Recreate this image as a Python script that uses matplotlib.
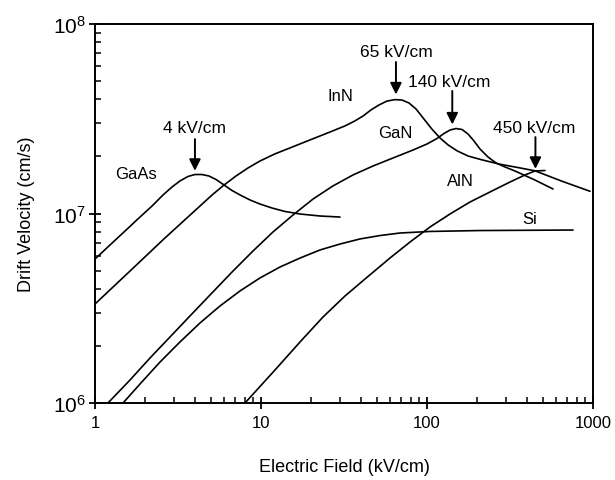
import matplotlib
matplotlib.use("Agg")
import matplotlib.pyplot as plt
from matplotlib.ticker import FixedLocator, FixedFormatter, LogLocator, NullFormatter

plt.rcParams['font.family'] = ['Liberation Sans', 'DejaVu Sans']
plt.rcParams['mathtext.fontset'] = 'custom'
plt.rcParams['mathtext.rm'] = 'Liberation Sans'

# ---- data (E in kV/cm, v in cm/s) ----
gaas_E = [1.0, 1.231, 1.516, 1.866, 2.205, 2.568, 2.91, 3.25, 3.63, 4.00, 4.41, 4.86,
          5.36, 5.99, 6.69, 7.58, 8.58, 9.86, 11.65, 13.95, 17.18, 22.67, 29.92]
gaas_v = [5.75e6, 6.82e6, 8.08e6, 9.58e6, 1.095e7, 1.252e7, 1.380e7, 1.485e7, 1.568e7,
          1.606e7, 1.606e7, 1.577e7, 1.511e7, 1.414e7, 1.322e7, 1.245e7, 1.179e7,
          1.122e7, 1.069e7, 1.025e7, 9.94e6, 9.70e6, 9.58e6]

inn_E = [1.0, 1.625, 2.64, 4.29, 5.07, 5.99, 7.07, 8.35, 9.86, 12.1, 14.9, 19.7, 26.0,
         32.1, 36.8, 41.2, 46.0, 51.4, 57.4, 64.2, 70.7, 77.9, 85.9, 95.9, 107, 120,
         134, 152, 177, 214, 275, 363, 447, 651, 959]
inn_v = [3.33e6, 4.97e6, 7.43e6, 1.095e7, 1.252e7, 1.414e7, 1.577e7, 1.739e7, 1.892e7,
         2.061e7, 2.216e7, 2.443e7, 2.69e7, 2.90e7, 3.08e7, 3.27e7, 3.52e7, 3.74e7,
         3.92e7, 3.99e7, 3.97e7, 3.83e7, 3.56e7, 3.15e7, 2.79e7, 2.50e7, 2.30e7,
         2.14e7, 2.01e7, 1.92e7, 1.82e7, 1.74e7, 1.68e7, 1.48e7, 1.31e7]

gan_E = [1.197, 1.625, 2.145, 2.83, 3.735, 4.93, 6.69, 8.95, 11.81, 15.59, 20.6, 27.1,
         35.8, 47.3, 62.4, 82.4, 100, 114.9, 126.6, 137.6, 149.5, 162.5, 176.6, 191.9,
         208.6, 233.1, 260.4, 295.1, 338.9, 447, 574.1]
gan_v = [1.0e6, 1.322e6, 1.728e6, 2.23e6, 2.88e6, 3.715e6, 4.91e6, 6.34e6, 7.99e6,
         9.82e6, 1.193e7, 1.397e7, 1.597e7, 1.781e7, 1.963e7, 2.163e7, 2.327e7,
         2.488e7, 2.644e7, 2.757e7, 2.808e7, 2.775e7, 2.628e7, 2.413e7, 2.189e7,
         1.987e7, 1.848e7, 1.760e7, 1.676e7, 1.502e7, 1.347e7]

aln_E = [8.01, 12.14, 17.18, 23.63, 32.06, 42.3, 59.8, 79.0, 104.3, 137.6, 181.6,
         239.6, 316.2, 389.3, 447, 513.8]
aln_v = [1.0e6, 1.493e6, 2.099e6, 2.843e6, 3.67e6, 4.51e6, 5.82e6, 7.07e6, 8.49e6,
         9.94e6, 1.150e7, 1.299e7, 1.466e7, 1.597e7, 1.676e7, 1.686e7]

si_E = [1.475, 1.866, 2.464, 3.25, 4.29, 5.66, 7.47, 9.86, 13.02, 17.18, 22.67, 29.92,
        39.5, 52.1, 68.8, 104.3, 208.6, 757.8]
si_v = [1.0e6, 1.259e6, 1.645e6, 2.099e6, 2.644e6, 3.25e6, 3.90e6, 4.57e6, 5.22e6,
        5.82e6, 6.42e6, 6.90e6, 7.34e6, 7.65e6, 7.89e6, 8.04e6, 8.13e6, 8.18e6]

x_ticks = [1, 10, 100, 1000]
x_ticklabels = ['1', '10', '100', '1000']
y_ticks = [1e6, 1e7, 1e8]
y_ticklabels = [r'$\mathregular{10^{6}}$', r'$\mathregular{10^{7}}$', r'$\mathregular{10^{8}}$']

# material labels: (text, E, v)
mat_labels = [('GaAs', 1.32, 1.62e7), ('InN', 25.3, 4.17e7), ('GaN', 50.7, 2.69e7),
              ('AlN', 132, 1.5e7), ('Si', 373, 9.46e6)]
# peak annotations: (text, text_E, text_v, ha, arrow_E, arrow_top_v, arrow_tip_v)
peak_notes = [('4 kV/cm', 4.0, 2.86e7, 'center', 4.0, 2.47e7, 1.68e7),
              ('65 kV/cm', 65, 7.2e7, 'center', 65, 6.3e7, 4.25e7),
              ('140 kV/cm', 77, 5.0e7, 'left', 142, 4.43e7, 2.95e7),
              ('450 kV/cm', 440, 2.86e7, 'center', 450, 2.53e7, 1.72e7)]

fig = plt.figure(figsize=(6.15, 4.81), dpi=100)
ax = fig.add_axes([95/615, 1-404/481, (593-95)/615, (404-25)/481])

for E, v in [(gaas_E, gaas_v), (inn_E, inn_v), (gan_E, gan_v), (aln_E, aln_v), (si_E, si_v)]:
    ax.plot(E, v, color='black', lw=1.2, solid_capstyle='round', solid_joinstyle='round')

ax.set_xscale('log')
ax.set_yscale('log')
ax.set_xlim(1, 1000)
ax.set_ylim(1e6, 1e8)

ax.xaxis.set_major_locator(FixedLocator(x_ticks))
ax.xaxis.set_major_formatter(FixedFormatter(x_ticklabels))
ax.yaxis.set_major_locator(FixedLocator(y_ticks))
ax.yaxis.set_major_formatter(FixedFormatter(y_ticklabels))
ax.xaxis.set_minor_locator(LogLocator(base=10, subs=range(2, 10), numticks=20))
ax.yaxis.set_minor_locator(LogLocator(base=10, subs=range(2, 10), numticks=20))
ax.xaxis.set_minor_formatter(NullFormatter())
ax.yaxis.set_minor_formatter(NullFormatter())

ax.tick_params(which='major', direction='inout', length=9, width=1.3, top=False, right=False)
ax.tick_params(which='minor', direction='in', length=4.5, width=1.1, top=False, right=False)
ax.tick_params(axis='x', which='major', labelsize=12, pad=4)
ax.tick_params(axis='y', which='major', labelsize=15, pad=2)
for s in ax.spines.values():
    s.set_linewidth(1.4)

ax.set_xlabel('Electric Field (kV/cm)', fontsize=13, labelpad=20)
ax.set_ylabel('Drift Velocity (cm/s)', fontsize=13, labelpad=13)

for t, E, v in mat_labels:
    ax.text(E, v, t, fontsize=12, ha='left', va='center')

for t, tE, tv, ha, aE, atop, atip in peak_notes:
    ax.text(tE, tv, t, fontsize=12.5, ha=ha, va='center')
    ax.annotate('', xy=(aE, atip), xytext=(aE, atop),
                arrowprops=dict(arrowstyle='-|>', color='black', lw=1.4,
                                mutation_scale=17, shrinkA=0, shrinkB=0))

fig.savefig('out.png', dpi=100)
